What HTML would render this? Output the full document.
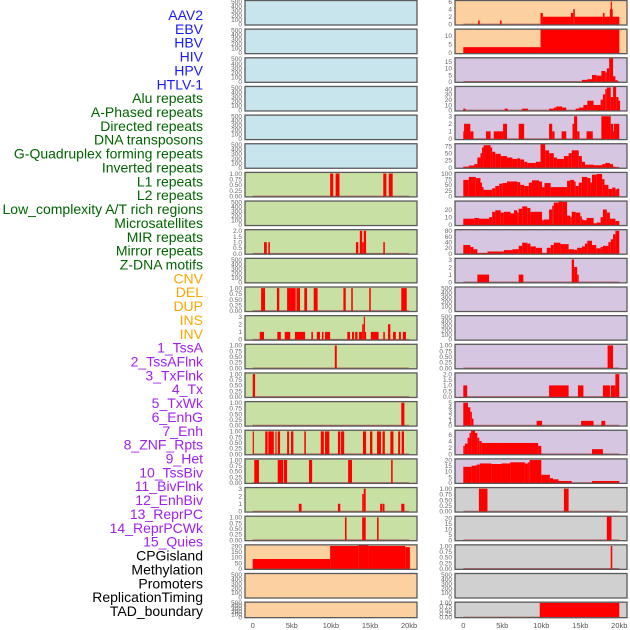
<!DOCTYPE html>
<html><head><meta charset="utf-8">
<style>
html,body{margin:0;padding:0;background:#fff;width:630px;height:630px;overflow:hidden}
svg{display:block;font-family:"Liberation Sans",sans-serif}
</style></head>
<body>
<svg id="chart" width="630" height="630"></svg>
<script>
// ---------- data ----------
const trackLabels = ["AAV2","EBV","HBV","HIV","HPV","HTLV-1","Alu repeats","A-Phased repeats","Directed repeats","DNA transposons","G-Quadruplex forming repeats","Inverted repeats","L1 repeats","L2 repeats","Low_complexity A/T rich regions","Microsatellites","MIR repeats","Mirror repeats","Z-DNA motifs","CNV","DEL","DUP","INS","INV","1_TssA","2_TssAFlnk","3_TxFlnk","4_Tx","5_TxWk","6_EnhG","7_Enh","8_ZNF_Rpts","9_Het","10_TssBiv","11_BivFlnk","12_EnhBiv","13_ReprPC","14_ReprPCWk","15_Quies","CPGisland","Methylation","Promoters","ReplicationTiming","TAD_boundary"];
const labelGroups = [6,13,5,15,5];
const xTickValues = [0,5,10,15,20];
const xTickLabels = ["0","5kb","10kb","15kb","20kb"];
const ticks500 = [0,100,200,300,400,500];
const ticks01 = [0,0.25,0.5,0.75,1];
const ticks02 = [0,0.5,1,1.5,2];
const ticks03 = [0,1,2,3];

// left column segments [startKb, endKb, value]
const left0 = [], left1 = [], left2 = [], left3 = [], left4 = [], left5 = [];
const left6 = [[9.9,10.3,1],[10.6,11.1,1],[16.7,17.1,1],[17.4,17.9,1]];
const left7 = [];
const left8 = [[1.45,1.8,1],[2.0,2.2,1],[13.2,13.5,1],[13.7,14.0,2],[14.0,14.2,1],[14.2,14.5,2],[16.7,16.9,1]];
const left9 = [];
const left10 = [[1.07,1.58,1],[3.1,3.4,1],[4.4,5.5,1],[5.6,6.05,1],[6.6,6.95,1],[7.8,8.3,1],[11.6,11.9,1],[12.6,12.8,1],[14.9,15.1,1],[19.0,19.7,1]];
const left11 = [[0.9,1.45,1],[3.15,3.6,1],[4.1,4.8,1],[5.4,6.7,1],[7.5,7.7,1],[8.2,8.6,1],[8.85,9.05,1],[9.25,9.9,1],[12.1,12.45,1],[12.7,12.95,1],[13.1,13.4,1],[13.6,14.0,1],[14.0,14.2,2],[14.2,14.35,3],[14.35,14.5,1],[15.1,16.1,1],[16.7,16.9,1],[17.3,17.6,2],[17.95,18.3,1],[18.7,18.95,1],[19.2,19.6,1]];
const left12 = [[10.5,10.75,1]];
const left13 = [[0,0.3,1]];
const left14 = [[19.0,19.4,1]];
const left15 = [[0,0.13,1],[1.6,1.9,1],[2.0,2.7,1],[2.9,3.05,1],[3.2,3.5,1],[4.4,4.65,1],[4.9,5.2,1],[6.6,6.8,1],[8.7,9.1,1],[9.25,9.8,1],[10.9,11.2,1],[11.3,11.7,1],[14.1,14.5,1],[15.0,15.3,1],[15.9,16.4,1],[16.6,16.9,1],[17.6,18.0,1],[18.6,18.85,1],[19.05,19.35,1]];
const left16 = [[0.2,0.8,1],[3.2,3.9,1],[4.0,4.4,1],[7.2,7.6,1],[12.2,12.7,1],[17.7,17.9,1]];
const left17 = [[5.9,6.25,1],[10.9,11.2,1],[14.0,14.2,2.3],[14.2,14.45,3],[16.3,16.55,1],[16.6,16.85,1],[19.0,19.4,1]];
const left18 = [[11.8,12.0,1],[14.0,14.45,1],[15.9,16.1,1]];
const left19 = [[0,9.9,85],[9.9,13.5,200],[13.5,14.8,205],[14.8,19.5,200],[19.5,20.1,190]];
const left20 = [], left21 = [];

// right column segments
const right0 = [[1.9,2.1,1],[4.7,4.9,1],[9.9,10.2,3],[10.2,13.8,2],[13.8,14.1,3],[14.1,14.3,4],[14.3,17.9,2],[17.9,18.1,3],[18.1,18.8,2],[18.8,18.9,4],[18.9,19.0,6],[19.0,19.1,4],[19.1,20,2]];
const right1 = [[0,9.9,3.4],[9.9,20,14]];
const right2 = [[15.2,15.9,1.3],[15.9,16.5,1.8],[16.5,17.1,5],[17.1,17.7,4.5],[17.7,18.2,8],[18.2,18.4,7],[18.4,18.7,10],[18.7,19.2,18],[19.2,19.5,4],[19.5,19.8,1]];
const right3 = [[0,0.3,3],[5.3,5.7,3],[7.5,8.3,3],[11,11.6,3],[11.6,11.9,5],[11.9,12.7,7],[12.7,13.2,5],[14.4,14.8,3],[14.8,15.4,5],[15.4,15.9,10],[15.9,16.7,18],[16.7,17.6,10],[17.6,17.9,20],[17.9,18.2,30],[18.2,18.4,40],[18.4,18.9,43],[18.9,19.2,25],[19.2,19.6,45],[19.6,19.9,25],[19.9,20.1,18]];
const right4 = [[0,0.1,1],[0.1,0.9,2],[0.9,1.3,1],[2.9,3.5,1],[3.9,5.1,1],[5.1,5.6,2],[7.1,7.8,2],[11.0,11.4,2],[11.4,11.7,1],[12.6,13.2,1],[14.0,14.2,2],[14.2,14.6,3],[14.6,14.9,1],[15.8,16.6,1],[17.7,18.9,3],[18.9,19.2,2],[19.2,19.3,1],[19.3,20,2]];
const right5 = [[0,0.7,3],[0.7,1.4,7],[1.4,1.8,12],[1.8,2.2,35],[2.2,2.4,50],[2.4,2.6,70],[2.6,3.5,78],[3.5,3.7,70],[3.7,4.1,55],[4.1,4.8,48],[4.8,5.6,40],[5.6,6.3,35],[6.3,6.9,30],[6.9,7.3,32],[7.3,7.8,28],[7.8,8.2,20],[8.2,9.3,16],[9.3,9.9,20],[9.9,10.5,83],[10.5,11.0,60],[11.0,11.6,50],[11.6,12.0,35],[12.0,12.9,30],[12.9,13.5,40],[13.5,13.9,50],[13.9,14.8,60],[14.8,15.2,40],[15.2,15.6,20],[15.6,16.7,10],[16.7,17.8,8],[17.8,18.2,12],[18.2,18.8,16],[18.8,19.2,12],[19.2,19.5,3],[19.5,20,1]];
const right6 = [[0,0.7,72],[0.7,1.6,85],[1.6,2.2,80],[2.2,2.4,60],[2.4,2.6,40],[2.6,3.7,28],[3.7,4.1,35],[4.1,4.6,45],[4.6,5.0,55],[5.0,5.6,58],[5.6,6.9,65],[6.9,7.3,62],[7.3,7.8,50],[7.8,8.4,45],[8.4,8.8,60],[8.8,9.7,70],[9.7,10.1,65],[10.1,10.4,40],[10.4,11.2,58],[11.2,13.3,40],[13.3,13.7,68],[13.7,14.2,72],[14.2,14.4,65],[14.4,14.8,45],[14.8,15.2,60],[15.2,15.9,85],[15.9,16.3,80],[16.3,16.5,60],[16.5,17.1,95],[17.1,17.8,98],[17.8,18.1,75],[18.1,18.6,50],[18.6,19.1,32],[19.1,19.5,38],[19.5,19.7,30],[19.7,20,33]];
const right7 = [[0,1.4,8],[1.4,2.0,9],[2.0,3.3,8],[3.3,3.7,10],[3.7,4.1,17],[4.1,4.8,19],[4.8,5.2,16],[5.2,6.05,17],[6.05,6.5,15],[6.5,6.9,19],[6.9,7.1,16],[7.1,7.55,21],[7.55,8.2,24],[8.2,8.6,22],[8.6,10.1,17],[10.1,10.3,6],[10.3,11.0,7],[11.0,11.4,20],[11.4,11.6,25],[11.6,12.2,29],[12.2,12.7,31],[12.7,13.3,30],[13.3,13.7,12],[13.7,13.9,10],[13.9,14.4,17],[14.4,15.0,16],[15.0,15.2,11],[15.2,15.4,7],[15.4,15.8,6],[15.8,16.7,9],[16.7,17.1,2],[17.1,17.6,3],[17.6,17.9,10],[17.9,18.4,20],[18.4,18.8,16],[18.8,19.5,8],[19.5,20,5]];
const right8 = [[0,0.9,30],[0.9,1.3,23],[1.3,1.8,15],[1.8,3.1,2],[3.1,5.2,7],[5.2,6.3,12],[6.3,7.1,15],[7.1,7.55,27],[7.55,8.2,38],[8.2,8.6,35],[8.6,9.3,25],[9.3,10.1,20],[10.1,10.7,2],[10.7,11.2,20],[11.2,11.6,30],[11.6,12.45,38],[12.45,13.5,33],[13.5,14.2,15],[14.2,14.6,13],[14.6,15.2,20],[15.2,15.6,25],[15.6,15.9,35],[15.9,16.5,45],[16.5,17.05,30],[17.05,17.6,18],[17.6,17.9,23],[17.9,18.6,27],[18.6,18.9,40],[18.9,19.2,50],[19.2,19.5,68],[19.5,20,80]];
const right9 = [[1.8,3.3,1],[7.1,7.7,1],[13.9,14.2,3],[14.2,14.6,2],[14.6,14.8,1]];
const right10 = [], right11 = [];
const right12 = [[18.5,19.2,1]];
const right13 = [[0,0.5,1],[11,13.5,1],[14.7,15.4,1],[17.9,18.8,1],[18.9,19.5,1],[19.5,20,2]];
const right14 = [[0,0.6,5],[0.6,0.9,4],[0.9,1.1,3],[1.1,1.3,1.5],[9.4,10.1,1],[15.1,16.7,1],[17.7,18.2,1]];
const right15 = [[0,0.2,2.5],[0.2,0.55,3.2],[0.55,0.8,5],[0.8,1.0,6.5],[1.0,1.5,7.3],[1.5,1.8,6.5],[1.8,2.05,5],[2.05,2.35,4],[2.35,9.6,3.4],[9.6,10.0,2.5],[16.5,17.9,1.5]];
const right16 = [[0,1.07,14],[1.07,1.7,15],[1.7,2.1,16],[2.1,3.6,17],[3.6,4.9,16.5],[4.9,6.0,17],[6.0,7.9,18],[7.9,8.3,17],[8.3,8.5,18],[8.5,10.0,20],[10.0,11.1,7],[11.1,11.5,4],[11.5,12.2,3],[12.2,13.9,1.5],[16.5,20,1.5]];
const right17 = [[2.0,3.1,1],[12.9,13.5,1]];
const right18 = [[18.4,19.0,22]];
const right19 = [[18.9,19.1,1]];
const right20 = [];
const right21 = [[9.8,20,1]];

const leftTicks = [ticks500,ticks500,ticks500,ticks500,ticks500,ticks500,ticks01,ticks500,ticks02,ticks500,ticks01,ticks03,ticks01,ticks01,ticks01,ticks01,ticks01,ticks03,ticks01,[0,50,100,150,200],ticks500,ticks500];
const rightTicks = [[0,2,4,6],[0,5,10],[0,5,10,15],[0,10,20,30,40],ticks03,[0,25,50,75],[0,25,50,75,100],[0,10,20],[0,20,40,60,80],ticks03,ticks500,ticks500,ticks01,ticks02,[0,1,2,3,4,5],[0,2,4,6],[0,5,10,15,20],ticks01,[0,5,10,15,20],ticks01,ticks500,ticks01];

const leftData = [left0,left1,left2,left3,left4,left5,left6,left7,left8,left9,left10,left11,left12,left13,left14,left15,left16,left17,left18,left19,left20,left21];
const rightData = [right0,right1,right2,right3,right4,right5,right6,right7,right8,right9,right10,right11,right12,right13,right14,right15,right16,right17,right18,right19,right20,right21];

// ---------- drawing ----------
const NS = "http://www.w3.org/2000/svg";
const svg = document.getElementById("chart");
function mk(tag, attrs, parent){
  const e = document.createElementNS(NS, tag);
  for (const k in attrs) e.setAttribute(k, attrs[k]);
  (parent||svg).appendChild(e);
  return e;
}
const groupColors = ["#1a1aff","#006400","#ffa500","#a020f0","#000000"];
let li = 0;
labelGroups.forEach((n, g) => {
  for (let j = 0; j < n; j++, li++) {
    const t = mk("text", {x:203, y:15 + li*13.86 + 5, "text-anchor":"end", "font-size":"14", fill:groupColors[g]});
    
    
    t.textContent = trackLabels[li];
  }
});

const cols = [
  {x0:245, x1:417, zero:252.7, pxPerKb:7.82, data:leftData, ticks:leftTicks, name:"left"},
  {x0:455, x1:627, zero:463.3, pxPerKb:7.8, data:rightData, ticks:rightTicks, name:"right"}
];
function bgColor(c, r){
  if (c === 0) return r < 6 ? "#c8e4ec" : (r < 19 ? "#c8e0a4" : "#fdd0a0");
  return r < 2 ? "#fdd0a0" : (r < 17 ? "#d6c6e2" : "#d0d0d0");
}
function fmt(ticks, v){
  const mx = ticks[ticks.length-1];
  if (mx === 1) return v.toFixed(2);
  if (mx === 2) return v.toFixed(1);
  return String(v);
}
cols.forEach((col, c) => {
  const xScale = kb => col.zero + kb * col.pxPerKb;
  for (let r = 0; r < 22; r++) {
    const top = 0.5 + r * 28.65;
    const h = r === 21 ? 15.5 : 24.5;
    const bottom = top + h;
    const segs = col.data[r];
    const ticks = col.ticks[r];
    const maxTick = ticks[ticks.length-1];
    let dmax = 0;
    segs.forEach(s => { if (s[2] > dmax) dmax = s[2]; });
    const hi = Math.max(dmax, maxTick * 1.05);
    const lo = -0.03 * hi;
    const yScale = v => bottom - (v - lo) / (hi - lo) * h;
    const g = mk("g", {});
    
    
    const bg = mk("rect", {x:col.x0, y:top, width:col.x1-col.x0, height:h, fill:bgColor(c, r)}, g);
    
    
    if (segs.length) {
      const base = mk("line", {x1:xScale(0), x2:xScale(20), y1:yScale(0), y2:yScale(0), stroke:"#b05050", "stroke-width":"1.2", opacity:"0.8"}, g);
      
      
    }
    segs.forEach(s => {
      const x = xScale(s[0]), w = Math.max(1.2, xScale(s[1]) - x);
      const y = Math.max(top, yScale(s[2]));
      const b = mk("rect", {x:x, y:y, width:w, height:yScale(0)-y+1, fill:"#ff0000"}, g);
      
      
    });
    const fr = mk("rect", {x:col.x0, y:top, width:col.x1-col.x0, height:h, fill:"none", stroke:"#5a5a5a", "stroke-width":"1.3"}, g);
    
    
    ticks.forEach(v => {
      const t = mk("text", {x:col.x0-3, y:yScale(v)+2.3, "text-anchor":"end", "font-size":"6.5", fill:"#666"}, g);
      
      
      t.textContent = fmt(ticks, v);
    });
  }
  xTickValues.forEach((v, i) => {
    const t = mk("text", {x:xScale(v), y:628, "text-anchor":"middle", "font-size":"7.5", fill:"#555"});
    
    
    t.textContent = xTickLabels[i];
  });
});
</script>
</body></html>
